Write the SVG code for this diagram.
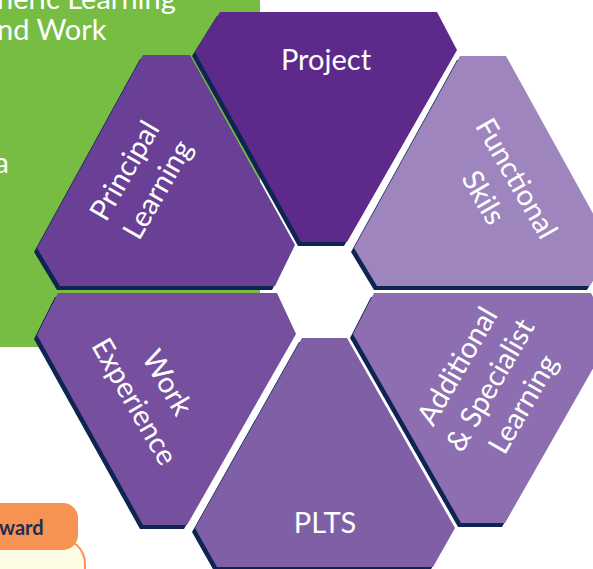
<svg xmlns="http://www.w3.org/2000/svg" width="593" height="569" viewBox="0 0 593 569">
<style>
.shadow{fill:#0E2552}
.lbl{font-family:Lato,"Noto Sans",sans-serif;font-size:29px;fill:#FFFFFF;text-anchor:middle}
.gtxt{font-family:Lato,"Noto Sans",sans-serif;font-size:29px;fill:#FFFFFF}
</style>
<rect x="0" y="0" width="593" height="569" fill="#FFFFFF"/>
<g id="green-panel">
<rect x="0" y="0" width="260" height="347" fill="#77BD43"/>
<text class="gtxt" x="-3" y="9">neric Learning</text>
<text class="gtxt" x="-3" y="40">nd Work</text>
<text class="gtxt" x="9" y="173" text-anchor="end">a</text>
</g>
<g id="orange-tab">
<rect x="-30" y="538" width="115" height="80" rx="26" fill="#FFFCE6" stroke="#F79352" stroke-width="2"/>
<rect x="-30" y="503" width="108" height="47" rx="15" fill="#F79352"/>
<text x="-1" y="535" font-family="Lato,'Noto Sans',sans-serif" font-size="20" font-weight="bold" fill="#1F2A55">ward</text>
</g>
<g id="project">
<polygon class="shadow" transform="translate(-3,4)" points="220,12 437,12 457,50 347,242 301,242 195,52"/>
<polygon fill="#5D2A8C" points="220,12 437,12 457,50 347,242 301,242 195,52"/>
<text class="lbl" x="326" y="70">Project</text>
</g>
<g id="functional-skills">
<polygon class="shadow" transform="translate(-3,4)" points="460,56 506,56 612,248 590,286 377,286 354,248"/>
<polygon fill="#9E85BD" points="460,56 506,56 612,248 590,286 377,286 354,248"/>
<text class="lbl" transform="translate(500,188) rotate(60)"><tspan x="0" y="-9">Functional</tspan><tspan x="0" y="29">Skils</tspan></text>
</g>
<g id="principal-learning">
<polygon class="shadow" transform="translate(-3,4)" points="143,55 190,55 295,245 275,286 60,286 37,248"/>
<polygon fill="#6A3F96" points="143,55 190,55 295,245 275,286 60,286 37,248"/>
<text class="lbl" transform="translate(141,180) rotate(-60)"><tspan x="0" y="-9">Principal</tspan><tspan x="0" y="29">Learning</tspan></text>
</g>
<g id="work-experience">
<polygon class="shadow" transform="translate(-3,4)" points="58,293 277,293 296,334 187,525 143,525 37,335"/>
<polygon fill="#774F9F" points="58,293 277,293 296,334 187,525 143,525 37,335"/>
<text class="lbl" transform="translate(151,392) rotate(60)"><tspan x="0" y="-9">Work</tspan><tspan x="0" y="29">Experience</tspan></text>
</g>
<g id="additional-specialist-learning">
<polygon class="shadow" transform="translate(-3,4)" points="374,293 591,293 612,335 505,523 461,523 353,334"/>
<polygon fill="#8D6EB0" points="374,293 591,293 612,335 505,523 461,523 353,334"/>
<text class="lbl" transform="translate(490,385) rotate(-60)"><tspan x="0" y="-28">Additional</tspan><tspan x="0" y="10">&amp; Specialist</tspan><tspan x="0" y="48">Learning</tspan></text>
</g>
<g id="plts">
<polygon class="shadow" transform="translate(-3,4)" points="302,338 347,338 455,528 433,567 217,567 195,528"/>
<polygon fill="#7F5FA6" points="302,338 347,338 455,528 433,567 217,567 195,528"/>
<text class="lbl" x="325" y="533">PLTS</text>
</g>
<g id="connectors"></g>
</svg>
